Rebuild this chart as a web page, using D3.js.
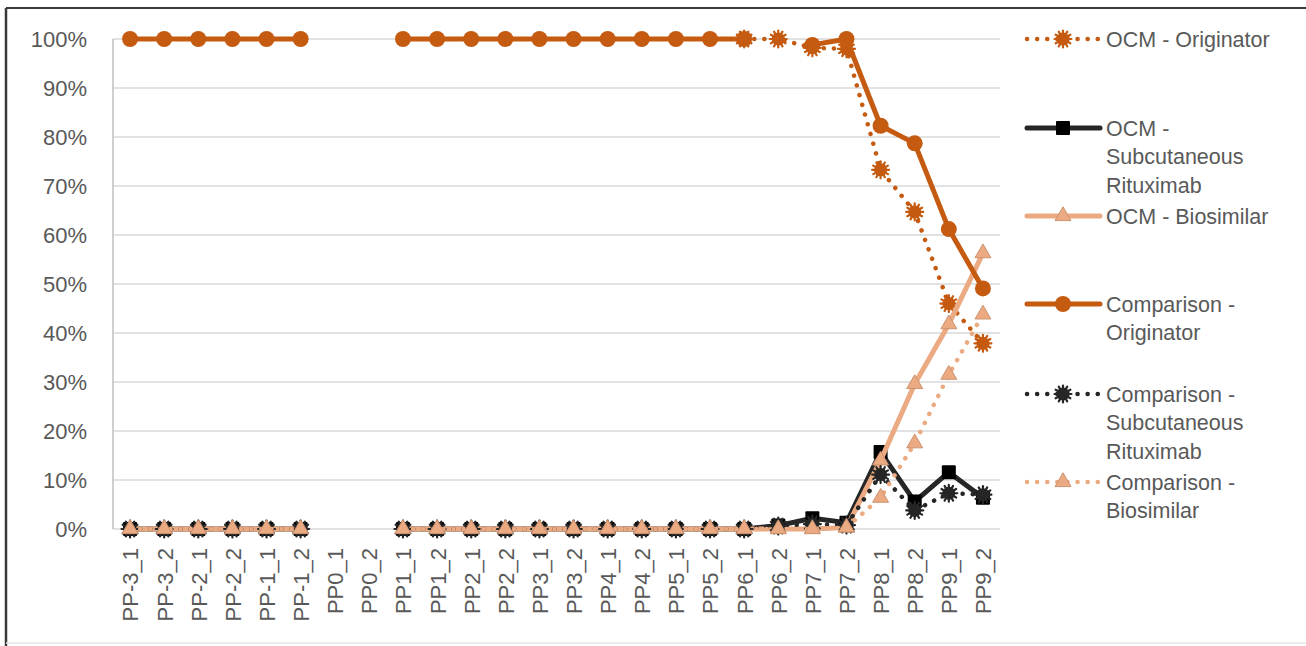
<!DOCTYPE html>
<html><head><meta charset="utf-8">
<script src="https://cdn.jsdelivr.net/npm/d3@7"></script>
<style>
html,body{margin:0;padding:0;background:#fff;}
svg{display:block;font-family:"Liberation Sans",Arial,sans-serif;}
</style></head>
<body>
<svg id="chart" width="1306" height="646"></svg>
<script>
// ---- data ----
const categories = ["PP-3_1","PP-3_2","PP-2_1","PP-2_2","PP-1_1","PP-1_2","PP0_1","PP0_2",
  "PP1_1","PP1_2","PP2_1","PP2_2","PP3_1","PP3_2","PP4_1","PP4_2","PP5_1","PP5_2",
  "PP6_1","PP6_2","PP7_1","PP7_2","PP8_1","PP8_2","PP9_1","PP9_2"];
const ocmOriginator = [null,null,null,null,null,null,null,null,null,null,null,null,null,null,null,null,null,null,
  100,100,98.2,98.0,73.3,64.7,46.0,37.9];
const ocmSubcutaneous = [0,0,0,0,0,0,null,null,0,0,0,0,0,0,0,0,0,0,
  0,0.7,2.2,1.3,15.7,5.6,11.6,6.4];
const ocmBiosimilar = [0,0,0,0,0,0,null,null,0,0,0,0,0,0,0,0,0,0,
  0,0,0,0.3,14.0,29.6,41.8,56.3];
const compOriginator = [100,100,100,100,100,100,null,null,100,100,100,100,100,100,100,100,100,100,
  100,null,98.8,100,82.3,78.7,61.2,49.1];
const compSubcutaneous = [0,0,0,0,0,0,null,null,0,0,0,0,0,0,0,0,0,0,
  0,0.6,1.0,0.8,11.1,3.8,7.3,7.0];
const compBiosimilar = [0,0,0,0,0,0,null,null,0,0,0,0,0,0,0,0,0,0,
  0,0,0,0.3,6.4,17.5,31.5,43.8];
const yTicks = [0,10,20,30,40,50,60,70,80,90,100];

const series = [
  {name:["OCM - Originator"], values: ocmOriginator, color:"#C55A11", dash:true, marker:"star", width:4.5},
  {name:["OCM -","Subcutaneous","Rituximab"], values: ocmSubcutaneous, color:"#262626", dash:false, marker:"square", width:5},
  {name:["OCM - Biosimilar"], values: ocmBiosimilar, color:"#EBAA82", dash:false, marker:"triangle", width:5},
  {name:["Comparison -","Originator"], values: compOriginator, color:"#C55A11", dash:false, marker:"circle", width:5},
  {name:["Comparison -","Subcutaneous","Rituximab"], values: compSubcutaneous, color:"#262626", dash:true, marker:"star", width:4.5},
  {name:["Comparison -","Biosimilar"], values: compBiosimilar, color:"#EBAA82", dash:true, marker:"triangle", width:4.5}
];

// ---- layout ----
const svg = d3.select("#chart");
const mLeft = 113, mRight = 1000, mTop = 39, mBottom = 529;
const x = d3.scalePoint().domain(categories).range([mLeft, mRight]).padding(0.5);
const y = d3.scaleLinear().domain([0,100]).range([mBottom, mTop]);

// frame
svg.append("line").attr("x1",6).attr("x2",1306).attr("y1",8).attr("y2",8).attr("stroke","#3a3a3a").attr("stroke-width",2);
svg.append("line").attr("x1",6).attr("x2",6).attr("y1",8).attr("y2",646).attr("stroke","#3a3a3a").attr("stroke-width",2.5);
svg.append("line").attr("x1",6).attr("x2",1306).attr("y1",643).attr("y2",643).attr("stroke","#e6e6e6").attr("stroke-width",1.5);

// gridlines
const grid = svg.append("g");
grid.selectAll("line").data(yTicks.filter(t=>t>0)).join("line")
  .attr("x1",mLeft).attr("x2",mRight).attr("y1",d=>y(d)).attr("y2",d=>y(d))
  .attr("stroke","#d9d9d9").attr("stroke-width",1.5);
svg.append("line").attr("x1",mLeft).attr("x2",mRight).attr("y1",y(0)).attr("y2",y(0)).attr("stroke","#d9d9d9").attr("stroke-width",1.5);
svg.append("line").attr("x1",mLeft).attr("x2",mLeft).attr("y1",y(100)).attr("y2",y(0)).attr("stroke","#bfbfbf").attr("stroke-width",1.5);

// y tick labels
const yAxis = d3.axisLeft(y).tickValues(yTicks).tickFormat(d=>d+"%").tickSize(0).tickPadding(26);
const ya = svg.append("g").attr("transform",`translate(${mLeft},0)`).call(yAxis);
ya.select(".domain").remove();
ya.selectAll("text").attr("fill","#595959").style("font-size","22px").style("font-family","'Liberation Sans',Arial,sans-serif");

// x labels (rotated)
const xAxis = d3.axisBottom(x).tickSize(0).tickPadding(0);
const xa = svg.append("g").attr("transform",`translate(0,${mBottom})`).call(xAxis);
xa.select(".domain").remove();
xa.selectAll("text")
  .attr("fill","#595959").style("font-size","22px").style("font-family","'Liberation Sans',Arial,sans-serif")
  .attr("text-anchor","end").attr("transform","rotate(-90)")
  .attr("x",-19).attr("y",0).attr("dy","0.36em");

// markers
function drawMarker(g, type, color, cx, cy, scale) {
  scale = scale || 1;
  if (type === "circle") {
    g.append("circle").attr("cx",cx).attr("cy",cy).attr("r",8*scale).attr("fill",color);
  } else if (type === "square") {
    const s = 14*scale;
    g.append("rect").attr("x",cx-s/2).attr("y",cy-s/2).attr("width",s).attr("height",s).attr("fill","#000").attr("rx",1);
  } else if (type === "triangle") {
    g.append("path").attr("transform",`translate(${cx},${cy})`)
      .attr("d", d3.symbol().type(d3.symbolTriangle).size(110*scale*scale)())
      .attr("fill",color).attr("stroke",d3.color(color).darker(0.4)).attr("stroke-width",1);
  } else if (type === "star") {
    const gg = g.append("g").attr("transform",`translate(${cx},${cy})`);
    gg.append("circle").attr("r",6.5*scale).attr("fill",color);
    for (let a = 0; a < 180; a += 30) {
      const r = 8.5*scale, rad = a*Math.PI/180;
      gg.append("line").attr("x1",-r*Math.cos(rad)).attr("y1",-r*Math.sin(rad))
        .attr("x2",r*Math.cos(rad)).attr("y2",r*Math.sin(rad))
        .attr("stroke",color).attr("stroke-width",2.2*scale).attr("stroke-linecap","round");
    }
  }
}

const line = d3.line().defined(d=>d.v!=null).x(d=>x(d.c)).y(d=>y(d.v));
const plot = svg.append("g");
series.forEach(s => {
  const pts = categories.map((c,i)=>({c, v:s.values[i]}));
  const g = plot.append("g");
  g.append("path").datum(pts).attr("d",line).attr("fill","none")
    .attr("stroke",s.color).attr("stroke-width",s.width)
    .attr("stroke-linejoin","round")
    .attr("stroke-linecap", s.dash ? "round" : "butt")
    .attr("stroke-dasharray", s.dash ? "0.1 10" : null);
  pts.filter(d=>d.v!=null).forEach(d => drawMarker(g, s.marker, s.color, x(d.c), y(d.v)));
});

// legend
const legendRows = [39, 128, 216, 304, 394, 482];
const lg = svg.append("g");
series.forEach((s,i) => {
  const cy = legendRows[i];
  const g = lg.append("g");
  g.append("line").attr("x1",1027).attr("x2",1100).attr("y1",cy).attr("y2",cy)
    .attr("stroke",s.color).attr("stroke-width",s.width)
    .attr("stroke-linecap", "round")
    .attr("stroke-dasharray", s.dash ? "0.1 10" : null);
  drawMarker(g, s.marker, s.color, 1063, cy);
  s.name.forEach((t,j) => {
    g.append("text").attr("x",1106).attr("y",cy + j*28.7).attr("dy","0.36em")
      .attr("fill","#595959").style("font-size","21.5px").text(t);
  });
});
</script>
</body></html>
